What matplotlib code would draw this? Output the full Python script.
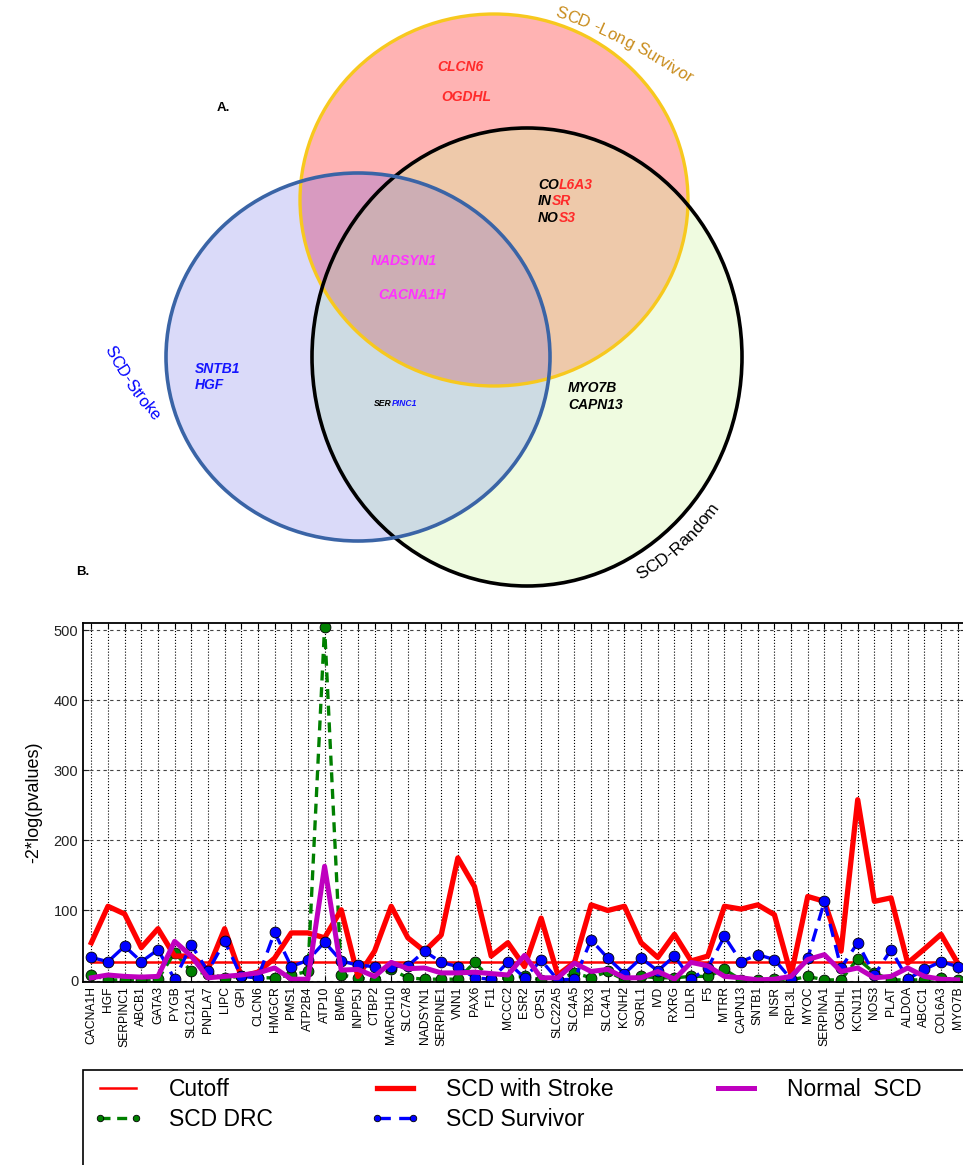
import numpy as np
import matplotlib
matplotlib.use("Agg")
import matplotlib.pyplot as plt
from matplotlib.patches import Ellipse, Rectangle
from matplotlib.font_manager import FontProperties

plt.rcParams['font.family'] = ['Liberation Sans', 'DejaVu Sans']

W, H = 963, 1165

# --- panel B data ---
genes = ["CACNA1H", "HGF", "SERPINC1", "ABCB1", "GATA3", "PYGB", "SLC12A1", "PNPLA7",
         "LIPC", "GPI", "CLCN6", "HMGCR", "PMS1", "ATP2B4", "ATP10", "BMP6", "INPP5J",
         "CTBP2", "MARCH10", "SLC7A8", "NADSYN1", "SERPINE1", "VNN1", "PAX6", "F11",
         "MCCC2", "ESR2", "CPS1", "SLC22A5", "SLC4A5", "TBX3", "SLC4A1", "KCNH2", "SORL1",
         "IVD", "RXRG", "LDLR", "F5", "MTRR", "CAPN13", "SNTB1", "INSR", "RPL3L", "MYOC",
         "SERPINA1", "OGDHL", "KCNJ11", "NOS3", "PLAT", "ALDOA", "ABCC1", "COL6A3", "MYO7B"]

cutoff = 26

scd_stroke = [54, 106, 95, 47, 74, 35, 35, 16, 74, 6, 12, 32, 68, 68, 61, 101, 6, 42,
              106, 61, 42, 65, 175, 134, 35, 54, 20, 89, 8, 26, 108, 100, 106, 54, 33,
              66, 28, 35, 106, 102, 108, 94, 8, 120, 113, 42, 258, 113, 118, 25, 45, 66, 25]

scd_survivor = [33, 27, 49, 27, 44, 2, 51, 13, 56, 6, 4, 69, 20, 29, 55, 28, 22, 20,
                20, 21, 42, 26, 20, 4, 2, 26, 4, 29, 1, 2, 58, 32, 10, 32, 14,
                35, 2, 18, 63, 27, 37, 30, 2, 32, 113, 18, 54, 8, 44, 2, 16, 27, 20]

scd_drc = [8, 1, 1, 1, 2, 40, 13, 10, 4, 6, 4, 4, 8, 13, 505, 8, 4, 1,
           16, 4, 2, 2, 2, 26, 2, 4, 6, 1, 1, 11, 4, 13, 1, 6, 4,
           4, 6, 6, 16, 1, 1, 2, 1, 6, 1, 1, 31, 11, 1, 1, 1, 4, 1]

normal_scd = [4, 8, 6, 5, 6, 56, 35, 4, 6, 8, 11, 18, 2, 2, 163, 15, 16, 6,
              26, 17, 18, 11, 11, 12, 10, 8, 36, 4, 4, 25, 13, 16, 4, 4, 13,
              2, 26, 21, 6, 4, 1, 2, 6, 30, 37, 13, 18, 4, 6, 18, 6, 2, 1]

# --- panel A data (Venn sets and their genes) ---
set_names = ["SCD -Long Survivor", "SCD-Stroke", "SCD-Random"]
only_survivor = ["CLCN6", "OGDHL"]
survivor_random = [("CO", "L6A3"), ("IN", "SR"), ("NO", "S3")]
all_three = ["NADSYN1", "CACNA1H"]
only_stroke = ["SNTB1", "HGF"]
stroke_random = ("SER", "PINC1")
only_random = ["MYO7B", "CAPN13"]

fig = plt.figure(figsize=(W / 100, H / 100), dpi=100)
renderer = fig.canvas.get_renderer()

# ---------------- Venn (panel A) in pixel coordinates ----------------
vax = fig.add_axes([0, 0, 1, 1], zorder=0)
vax.axis('off')

ell_y = (494, 200, 194, 186)   # cx, cy, rx, ry  (long survivor)
ell_b = (358, 357, 192, 184)   # stroke
ell_k = (527, 357, 215, 229)   # random

yy, xx = np.mgrid[0:600, 0:W] + 0.5


def inside(e):
    cx, cy, rx, ry = e
    return ((xx - cx) / rx) ** 2 + ((yy - cy) / ry) ** 2 <= 1


code = inside(ell_y) * 1 + inside(ell_b) * 2 + inside(ell_k) * 4
region_cols = {0: "#ffffff00", 1: "#ffb3b3", 2: "#dadaf9", 3: "#d89ac0",
               4: "#effbe0", 5: "#eec9aa", 6: "#cddbe3", 7: "#cdaeb4"}
lut = np.array([matplotlib.colors.to_rgba(region_cols[k]) for k in range(8)])
vax.imshow(lut[code], extent=(0, W, 600, 0), interpolation='nearest', zorder=1)

for e, col, lw in [(ell_y, "#f7c81e", 2.4), (ell_k, "black", 2.6), (ell_b, "#3a64a6", 2.6)]:
    cx, cy, rx, ry = e
    vax.add_patch(Ellipse((cx, cy), 2 * rx, 2 * ry, fill=False, edgecolor=col, lw=lw, zorder=3))

vax.set_xlim(0, W)
vax.set_ylim(H, 0)
vax.set_aspect('auto')


def text_px(s, fp):
    w, h, d = renderer.get_text_width_height_descent(s, fp, ismath=False)
    return w


def curved_text(s, cx, cy, rx, ry, a0, ccw, fp, color):
    # place characters one by one along an ellipse (pixel coords, y down)
    a = np.radians(np.linspace(a0, a0 + (120 if ccw else -120), 6000))
    px = cx + rx * np.cos(a)
    py = cy - ry * np.sin(a)
    seg = np.hypot(np.diff(px), np.diff(py))
    arc = np.concatenate([[0], np.cumsum(seg)])
    pos = 0.0
    for ch in s:
        w = text_px(ch, fp) if ch != " " else text_px("a a", fp) - text_px("aa", fp)
        k = np.searchsorted(arc, pos + w / 2)
        ak = a[k]
        dx, dy = -rx * np.sin(ak), ry * np.cos(ak)
        if not ccw:
            dx, dy = -dx, -dy
        rot = np.degrees(np.arctan2(dy, dx))
        vax.text(px[k], py[k], ch, fontproperties=fp, color=color, rotation=rot,
                 rotation_mode='anchor', ha='center', va='baseline', zorder=5)
        pos += w


curved_text(set_names[0], 348, 591, 611, 611, 70.3, False,
            FontProperties(family='Liberation Sans', size=12.2), "#c98c1c")
curved_text(set_names[2], 527, 357, 238, 254, -61.5, True,
            FontProperties(family='Liberation Sans', size=12.5), "black")
curved_text(set_names[1], 391, 203, 322, 322, 207, True,
            FontProperties(family='Liberation Sans', size=11.8), "blue")

vax.text(217, 108, "A.", fontsize=9.5, fontweight='bold', va='center', zorder=5)
vax.text(76, 572, "B.", fontsize=9.5, fontweight='bold', va='center', zorder=5)

gkw = dict(fontsize=10, fontweight='bold', fontstyle='italic', va='center', zorder=5)
vax.text(437, 67, only_survivor[0], color="#ff2a2a", **gkw)
vax.text(441, 97, only_survivor[1], color="#ff2a2a", **gkw)
for (a_txt, b_txt), y in zip(survivor_random, [185, 201, 218]):
    t = vax.text(538, y, a_txt, color="black", **gkw)
    vax.annotate(b_txt, xy=(1, 0), xycoords=t, ha='left', va='bottom',
                 color="#ff2a2a", fontsize=10, fontweight='bold', fontstyle='italic', zorder=5)
vax.text(371, 261, all_three[0], color="#ff33ff", **gkw)
vax.text(378, 295, all_three[1], color="#ff33ff", **gkw)
vax.text(195, 369, only_stroke[0], color="#1515ff", **gkw)
vax.text(195, 385, only_stroke[1], color="#1515ff", **gkw)
t = vax.text(374, 404, stroke_random[0], color="black", fontsize=6.2,
             fontweight='bold', fontstyle='italic', va='center', zorder=5)
vax.annotate(stroke_random[1], xy=(1, 0), xycoords=t, ha='left', va='bottom', color="#1515ff",
             fontsize=6.2, fontweight='bold', fontstyle='italic', zorder=5)
vax.text(568, 388, only_random[0], color="black", **gkw)
vax.text(568, 405, only_random[1], color="black", **gkw)

# ---------------- line chart (panel B) ----------------
ax = fig.add_axes([83 / W, 1 - 982 / H, (966 - 83) / W, (982 - 623) / H], zorder=2)
x = np.arange(len(genes))

ax.plot(x, [cutoff] * len(genes), color="red", lw=1.8, label="Cutoff")
ax.plot(x, scd_drc, color="green", lw=2.4, ls=(0, (3, 2)), marker='o', ms=7.8,
        mfc="green", mec="black", mew=0.6, label="SCD DRC")
ax.plot(x, scd_stroke, color="red", lw=3.8, label="SCD with Stroke")
ax.plot(x, scd_survivor, color="blue", lw=2.4, ls=(0, (4, 2.5)), marker='o', ms=7.8,
        mfc="blue", mec="black", mew=0.6, label="SCD Survivor")
ax.plot(x, normal_scd, color="#bf00bf", lw=3.6, label="Normal  SCD")

ax.set_xlim(-0.5, len(genes) - 0.5)
ax.set_ylim(-2, 510)
ax.set_yticks([0, 100, 200, 300, 400, 500])
ax.set_xticks(x)
ax.set_xticklabels(genes, rotation=90, fontsize=8.7)
ax.tick_params(axis='y', labelsize=10.5, colors="#222222")
ax.tick_params(direction='in', top=True, right=True, length=4, width=0.8)
ax.tick_params(axis='x', pad=3)
ax.grid(axis='x', color="black", ls=':', lw=0.8)
ax.grid(axis='y', color="#444444", ls=(0, (3, 3)), lw=0.8)
for sp in ax.spines.values():
    sp.set_linewidth(1.3)
ax.set_ylabel("-2*log(pvalues)", fontsize=13, labelpad=8)

# legend: frame drawn separately so that it runs off the right and bottom edges
handles, labels = ax.get_legend_handles_labels()
fig.legend(handles, labels, loc='upper left', bbox_to_anchor=(86 / W, 1 - 1071 / H),
           ncol=3, fontsize=16.5, frameon=False, handlelength=2.18, columnspacing=4.24,
           markerscale=0.6, borderpad=0.3, borderaxespad=0, labelspacing=0.3,
           handletextpad=1.14, numpoints=2)
fig.patches.append(Rectangle((83 / W, -0.1), 1.0, 1 - 1070 / H + 0.1, transform=fig.transFigure,
                             fill=False, edgecolor="black", lw=1.2, zorder=3))

fig.savefig("out.png", dpi=100)
